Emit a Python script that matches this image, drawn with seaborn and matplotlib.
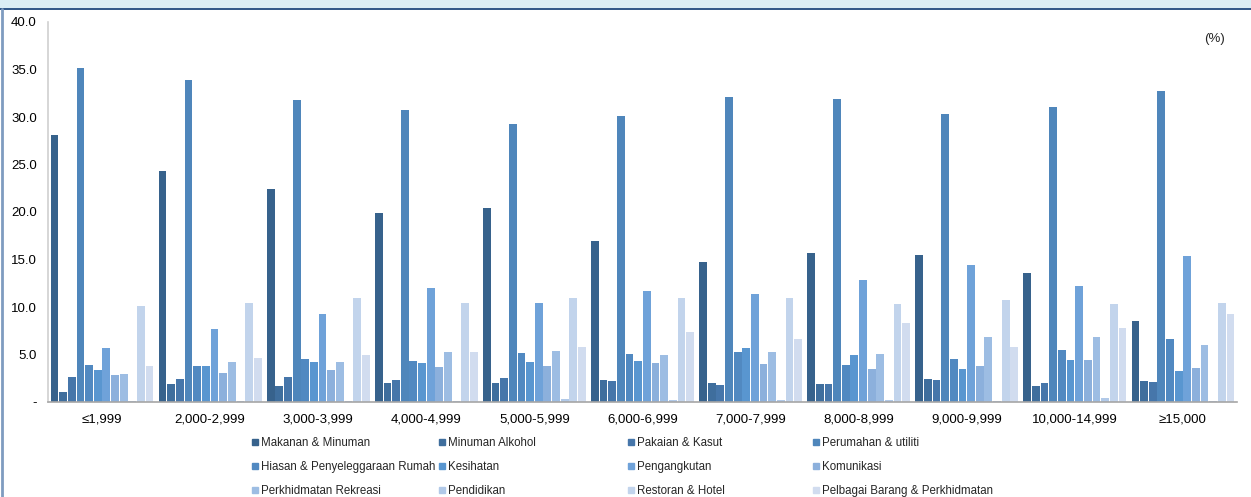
import pandas as pd
import matplotlib.pyplot as plt
import seaborn as sns
from matplotlib.patches import Rectangle
from matplotlib.lines import Line2D

groups = ['≤1,999', '2,000-2,999', '3,000-3,999', '4,000-4,999', '5,000-5,999',
          '6,000-6,999', '7,000-7,999', '8,000-8,999', '9,000-9,999',
          '10,000-14,999', '≥15,000']

categories = ['Makanan & Minuman', 'Minuman Alkohol', 'Pakaian & Kasut',
              'Perumahan & utiliti', 'Hiasan & Penyeleggaraan Rumah', 'Kesihatan',
              'Pengangkutan', 'Komunikasi', 'Perkhidmatan Rekreasi', 'Pendidikan',
              'Restoran & Hotel', 'Pelbagai Barang & Perkhidmatan']

makanan    = [28.1, 24.3, 22.4, 19.9, 20.4, 17.0, 14.7, 15.7, 15.5, 13.6, 8.5]
alkohol    = [1.1, 1.9, 1.7, 2.0, 2.0, 2.3, 2.0, 1.9, 2.4, 1.7, 2.2]
pakaian    = [2.6, 2.4, 2.6, 2.3, 2.5, 2.2, 1.8, 1.9, 2.3, 2.0, 2.1]
perumahan  = [35.2, 33.9, 31.8, 30.7, 29.3, 30.1, 32.1, 31.9, 30.3, 31.1, 32.7]
hiasan     = [3.9, 3.8, 4.5, 4.3, 5.2, 5.1, 5.3, 3.9, 4.5, 5.5, 6.6]
kesihatan  = [3.4, 3.8, 4.2, 4.1, 4.2, 4.3, 5.7, 4.9, 3.5, 4.4, 3.3]
angkutan   = [5.7, 7.7, 9.3, 12.0, 10.4, 11.7, 11.4, 12.8, 14.4, 12.2, 15.4]
komunikasi = [2.8, 3.1, 3.4, 3.7, 3.8, 4.1, 4.0, 3.5, 3.8, 4.4, 3.6]
rekreasi   = [3.0, 4.2, 4.2, 5.3, 5.4, 4.9, 5.3, 5.1, 6.8, 6.8, 6.0]
pendidikan = [0.1, 0.1, 0.1, 0.1, 0.3, 0.2, 0.2, 0.2, 0.1, 0.4, 0.1]
restoran   = [10.1, 10.4, 10.9, 10.4, 11.0, 11.0, 10.9, 10.3, 10.7, 10.3, 10.4]
pelbagai   = [3.8, 4.6, 5.0, 5.3, 5.8, 7.4, 6.6, 8.3, 5.8, 7.8, 9.3]

series = [makanan, alkohol, pakaian, perumahan, hiasan, kesihatan,
          angkutan, komunikasi, rekreasi, pendidikan, restoran, pelbagai]

colors = ['#37628c', '#3f6e9d', '#4676aa', '#4f86bb', '#5189c1', '#5996d0',
          '#6fa2d9', '#8cb0dc', '#9dbde3', '#b1c9e8', '#c2d4ec', '#d1dcef']

rows = []
for cat, vals in zip(categories, series):
    for g, v in zip(groups, vals):
        rows.append({'group': g, 'category': cat, 'value': v})
df = pd.DataFrame(rows)

sns.set_style('white')
plt.rcParams['font.family'] = ['Liberation Sans', 'DejaVu Sans']

fig = plt.figure(figsize=(12.51, 4.97), dpi=100)
ax = fig.add_axes([48 / 1251, 1 - 402 / 497, (1237 - 48) / 1251, 380 / 497])

sns.barplot(data=df, x='group', y='value', hue='category', hue_order=categories,
            order=groups, palette=colors, saturation=1, width=0.96, gap=0.1,
            dodge=True, edgecolor='none', legend=False, ax=ax)

ax.set_xlim(-0.5, len(groups) - 0.5)
ax.set_ylim(0, 40)
ax.set_yticks(range(0, 41, 5))
ax.set_yticklabels(['-'] + [f'{v:.1f}' for v in range(5, 41, 5)])
ax.set_xlabel('')
ax.set_ylabel('')
ax.tick_params(axis='both', length=0, labelsize=9.5, colors='#000000')
ax.tick_params(axis='y', pad=8)
ax.tick_params(axis='x', pad=8)
for s in ['top', 'right']:
    ax.spines[s].set_visible(False)
ax.spines['left'].set_color('#d0d0d0')
ax.spines['bottom'].set_color('#a6a6a6')
ax.spines['left'].set_linewidth(1.2)
ax.spines['bottom'].set_linewidth(1.2)

ax.text(0.99, 0.955, '(%)', transform=ax.transAxes, ha='right', va='center',
        fontsize=9.5)

# legend, 3 rows x 4 columns, one legend per column so the columns sit evenly
col_x = [252, 439, 628, 813]
for c in range(4):
    idx = [r * 4 + c for r in range(3)]
    handles = [Line2D([], [], marker='s', linestyle='none', markersize=5,
                      markerfacecolor=colors[i], markeredgecolor=colors[i]) for i in idx]
    fig.legend(handles, [categories[i] for i in idx], ncol=1, loc='upper left',
               bbox_to_anchor=(col_x[c] / 1251, 1 - 437 / 497), frameon=False,
               fontsize=8.3, handlelength=0.6, handletextpad=0.2,
               labelspacing=1.05, borderaxespad=0, borderpad=0)

# outer frame of the original panel
fig.patches.append(Rectangle((0, 1 - 8 / 497), 1, 8 / 497, transform=fig.transFigure,
                             facecolor='#dbeef4', edgecolor='none'))
fig.lines.append(Line2D([0, 1], [1 - 8.5 / 497] * 2, transform=fig.transFigure,
                        color='#1f497d', linewidth=1.3))
fig.lines.append(Line2D([1.5 / 1251] * 2, [0, 1 - 8.5 / 497], transform=fig.transFigure,
                        color='#7f9cc0', linewidth=2))

fig.savefig('out.png', dpi=100)
